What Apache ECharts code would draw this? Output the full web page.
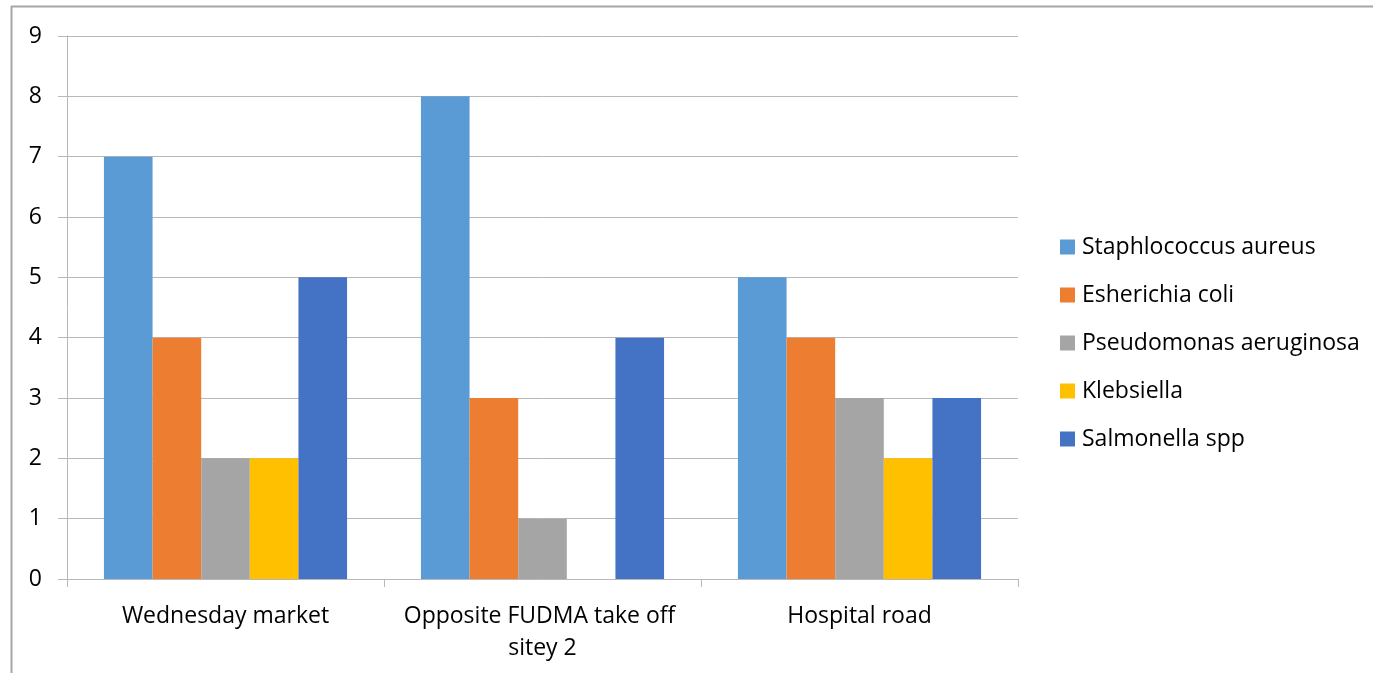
<!DOCTYPE html>
<html>
<head>
<meta charset="utf-8">
<script src="https://cdn.jsdelivr.net/npm/echarts@6/dist/echarts.min.js"></script>
<style>
  html, body { margin: 0; padding: 0; background: #fff; }
  #chart { width: 1373px; height: 673px; }
</style>
</head>
<body>
<div id="chart"></div>
<script>
// Sampling sites and isolate counts per organism
const sites = ['Wednesday market', 'Opposite FUDMA take off sitey 2', 'Hospital road'];
const staphylococcus = [7, 8, 5];
const escherichia = [4, 3, 4];
const pseudomonas = [2, 1, 3];
const klebsiella = [2, 0, 2];
const salmonella = [5, 4, 3];
const seriesNames = ['Staphlococcus aureus', 'Esherichia coli', 'Pseudomonas aeruginosa', 'Klebsiella', 'Salmonella spp'];
const seriesValues = [staphylococcus, escherichia, pseudomonas, klebsiella, salmonella];
const colors = ['#5B9BD5', '#ED7D31', '#A5A5A5', '#FFC000', '#4472C4'];

const FONT = '"Open Sans", "Noto Sans", sans-serif';
const chart = echarts.init(document.getElementById('chart'));

chart.setOption({
  animation: false,
  color: colors,
  textStyle: { fontFamily: FONT },
  grid: { left: 67, right: 355, top: 36, bottom: 94 },
  graphic: [
    // chart-area frame (top and left edges)
    { type: 'line', shape: { x1: 11, y1: 6.5, x2: 1373, y2: 6.5 }, style: { stroke: '#a6a6a6', lineWidth: 2 } },
    { type: 'line', shape: { x1: 11.5, y1: 6, x2: 11.5, y2: 673 }, style: { stroke: '#a6a6a6', lineWidth: 2 } }
  ],
  legend: {
    orient: 'vertical',
    left: 1055,
    top: 229,
    itemWidth: 15,
    itemHeight: 15,
    itemGap: 22,
    icon: 'rect',
    textStyle: { fontSize: 23, lineHeight: 26, color: '#000', fontFamily: FONT, padding: [0, 0, 0, 2] },
    data: seriesNames
  },
  xAxis: {
    type: 'category',
    data: sites,
    axisLine: { lineStyle: { color: '#b8b8b8', width: 1 } },
    axisTick: { show: true, alignWithLabel: false, length: 8, lineStyle: { color: '#b8b8b8' } },
    axisLabel: {
      interval: 0,
      fontSize: 23,
      color: '#000',
      margin: 21,
      width: 300,
      overflow: 'break',
      lineHeight: 32,
      fontFamily: FONT
    }
  },
  yAxis: {
    type: 'value',
    min: 0,
    max: 9,
    interval: 1,
    axisLine: { show: true, lineStyle: { color: '#b8b8b8' } },
    axisTick: { show: true, length: 9, lineStyle: { color: '#b8b8b8' } },
    splitLine: { lineStyle: { color: '#b8b8b8' } },
    axisLabel: { fontSize: 23, color: '#000', margin: 25, fontFamily: FONT }
  },
  series: seriesNames.map((name, i) => ({
    name: name,
    type: 'bar',
    data: seriesValues[i],
    barGap: '0%',
    barCategoryGap: '23.3%',
    itemStyle: { color: colors[i] }
  }))
});
</script>
</body>
</html>
